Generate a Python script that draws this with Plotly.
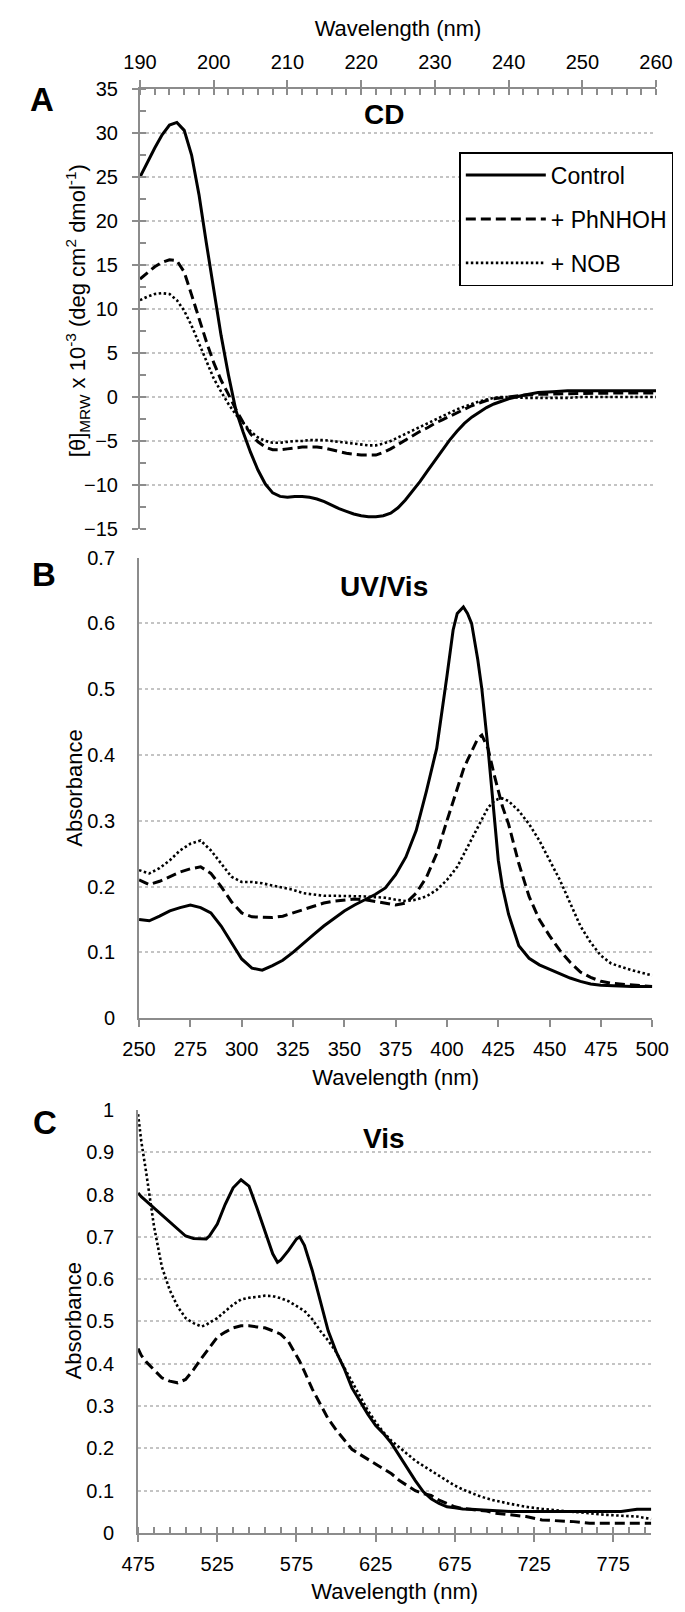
import plotly.graph_objects as go

FONT = "Liberation Sans, Arial, sans-serif"
AXIS_GRAY = "#8c8c8c"
GRID_GRAY = "#c4c4c4"
W, H = 685, 1612

# ---- Panel A: CD ----
cd_wl = [190, 191, 192, 193, 194, 195, 196, 197, 198, 199, 200, 201, 202, 203, 204, 205,
         206, 207, 208, 209, 210, 211, 212, 213, 214, 215, 216, 217, 218, 219, 220, 221,
         222, 223, 224, 225, 226, 227, 228, 229, 230, 231, 232, 233, 234, 235, 236, 237,
         238, 239, 240, 242, 244, 246, 248, 250, 255, 260]
cd_control = [25.0, 26.7, 28.3, 29.8, 30.9, 31.2, 30.3, 27.5, 23.0, 17.5, 12.0, 7.0, 2.5, -1.5,
              -4.0, -6.3, -8.3, -9.9, -10.9, -11.3, -11.4, -11.3, -11.3, -11.4, -11.6, -11.9,
              -12.3, -12.7, -13.0, -13.3, -13.5, -13.6, -13.6, -13.5, -13.2, -12.6, -11.7,
              -10.7, -9.6, -8.4, -7.2, -6.0, -4.9, -3.9, -3.0, -2.3, -1.7, -1.2, -0.8, -0.5,
              -0.2, 0.2, 0.5, 0.6, 0.7, 0.7, 0.7, 0.7]
cd_phnhoh = [13.4, 14.1, 14.8, 15.3, 15.6, 15.5, 14.2, 11.6, 8.9, 6.3, 3.9, 1.9, 0.3, -1.4,
             -2.9, -4.2, -5.1, -5.7, -6.0, -6.0, -5.9, -5.8, -5.7, -5.7, -5.7, -5.8, -6.0,
             -6.2, -6.4, -6.5, -6.6, -6.6, -6.6, -6.3, -5.9, -5.4, -4.9, -4.4, -3.9, -3.5,
             -3.0, -2.6, -2.2, -1.8, -1.4, -1.0, -0.7, -0.4, -0.2, -0.1, 0.0, 0.2, 0.3, 0.35,
             0.4, 0.4, 0.45, 0.45]
cd_nob = [11.0, 11.4, 11.7, 11.8, 11.7, 11.0, 9.8, 8.1, 6.1, 4.0, 2.1, 0.6, -0.8, -2.0, -3.0,
          -3.9, -4.6, -5.0, -5.2, -5.2, -5.1, -5.0, -5.0, -4.9, -4.9, -4.9, -5.0, -5.1, -5.2,
          -5.3, -5.4, -5.5, -5.5, -5.3, -5.0, -4.6, -4.2, -3.8, -3.4, -3.0, -2.6, -2.2, -1.8,
          -1.4, -1.1, -0.8, -0.5, -0.3, -0.1, 0.0, 0.0, -0.1, -0.1, -0.1, -0.1, 0.0, 0.0, 0.0]

# ---- Panel B: UV/Vis ----
uv_wl = [250, 255, 260, 265, 270, 275, 280, 285, 290, 295, 300, 305, 310, 315, 320, 325, 330,
         335, 340, 345, 350, 355, 360, 365, 370, 375, 380, 385, 390, 395, 400, 403, 405, 408,
         410, 412, 415, 417, 420, 423, 425, 427, 430, 435, 440, 445, 450, 455, 460, 465, 470,
         475, 480, 490, 500]
uv_control = [0.150, 0.148, 0.155, 0.163, 0.168, 0.172, 0.168, 0.160, 0.140, 0.115, 0.090,
              0.076, 0.073, 0.080, 0.088, 0.100, 0.114, 0.127, 0.140, 0.152, 0.163, 0.172,
              0.180, 0.188, 0.198, 0.218, 0.245, 0.285, 0.345, 0.410, 0.520, 0.590, 0.615,
              0.625, 0.615, 0.600, 0.545, 0.500, 0.410, 0.300, 0.240, 0.200, 0.158, 0.110,
              0.091, 0.081, 0.074, 0.067, 0.061, 0.056, 0.052, 0.050, 0.049, 0.048, 0.048]
uv_phnhoh = [0.210, 0.203, 0.208, 0.215, 0.222, 0.227, 0.230, 0.220, 0.200, 0.177, 0.160,
             0.154, 0.153, 0.153, 0.155, 0.160, 0.165, 0.170, 0.175, 0.178, 0.180, 0.181,
             0.180, 0.177, 0.174, 0.172, 0.175, 0.190, 0.214, 0.250, 0.300, 0.330, 0.350,
             0.378, 0.392, 0.405, 0.425, 0.430, 0.410, 0.370, 0.345, 0.322, 0.295, 0.235,
             0.185, 0.150, 0.125, 0.103, 0.085, 0.070, 0.062, 0.056, 0.053, 0.050, 0.048]
uv_nob = [0.225, 0.220, 0.228, 0.240, 0.255, 0.265, 0.270, 0.255, 0.235, 0.215, 0.207, 0.207,
          0.205, 0.202, 0.198, 0.195, 0.190, 0.188, 0.186, 0.186, 0.186, 0.186, 0.185, 0.184,
          0.183, 0.180, 0.178, 0.180, 0.185, 0.195, 0.210, 0.222, 0.230, 0.248, 0.260, 0.272,
          0.290, 0.302, 0.320, 0.330, 0.333, 0.334, 0.330, 0.315, 0.295, 0.270, 0.240, 0.210,
          0.175, 0.140, 0.115, 0.095, 0.083, 0.073, 0.065]

# ---- Panel C: Vis ----
vis_wl = [475, 477, 480, 483, 485, 488, 490, 495, 500, 505, 510, 515, 518, 520, 525, 530, 535,
          540, 545, 550, 555, 560, 563, 565, 570, 575, 577, 580, 585, 590, 595, 600, 605, 610,
          615, 620, 625, 630, 635, 640, 645, 650, 655, 660, 665, 670, 675, 680, 685, 690, 695,
          700, 710, 720, 730, 740, 750, 760, 770, 780, 790, 799]
vis_control = [0.804, 0.795, 0.785, 0.775, 0.769, 0.760, 0.753, 0.737, 0.718, 0.702, 0.696,
               0.695, 0.695, 0.702, 0.730, 0.777, 0.816, 0.835, 0.820, 0.769, 0.715, 0.660,
               0.640, 0.645, 0.668, 0.695, 0.700, 0.680, 0.620, 0.550, 0.478, 0.429, 0.390,
               0.343, 0.312, 0.281, 0.254, 0.235, 0.212, 0.182, 0.151, 0.124, 0.098, 0.081,
               0.070, 0.062, 0.060, 0.057, 0.056, 0.055, 0.054, 0.052, 0.051, 0.051, 0.051,
               0.051, 0.051, 0.051, 0.051, 0.051, 0.056, 0.056]
vis_phnhoh = [0.436, 0.420, 0.405, 0.393, 0.386, 0.374, 0.367, 0.359, 0.355, 0.363, 0.386,
              0.413, 0.428, 0.440, 0.463, 0.475, 0.485, 0.490, 0.490, 0.487, 0.485, 0.478,
              0.474, 0.470, 0.452, 0.421, 0.406, 0.382, 0.340, 0.305, 0.270, 0.244, 0.221,
              0.198, 0.186, 0.175, 0.163, 0.151, 0.140, 0.124, 0.112, 0.100, 0.093, 0.089,
              0.078, 0.070, 0.062, 0.058, 0.056, 0.054, 0.052, 0.047, 0.043, 0.039, 0.031,
              0.029, 0.027, 0.023, 0.023, 0.023, 0.023, 0.023]
vis_nob = [0.990, 0.926, 0.855, 0.777, 0.726, 0.668, 0.629, 0.574, 0.535, 0.508, 0.496, 0.488,
           0.492, 0.497, 0.508, 0.524, 0.540, 0.552, 0.556, 0.558, 0.561, 0.560, 0.557, 0.555,
           0.548, 0.537, 0.532, 0.525, 0.505, 0.478, 0.455, 0.428, 0.392, 0.357, 0.322, 0.290,
           0.262, 0.238, 0.218, 0.202, 0.186, 0.171, 0.159, 0.147, 0.136, 0.124, 0.112, 0.103,
           0.095, 0.088, 0.082, 0.077, 0.069, 0.062, 0.057, 0.053, 0.050, 0.047, 0.043, 0.041,
           0.039, 0.033]

series_names = ["Control", "+ PhNHOH", "+ NOB"]
series_dash = ["solid", "10px,5px", "2.5px,2.5px"]
series_width = [3, 3, 2.6]


def px_x(p):
    return p / W


def px_y(p):
    return 1 - p / H


fig = go.Figure()

panels = [
    ("x", "y", cd_wl, [cd_control, cd_phnhoh, cd_nob], True),
    ("x2", "y2", uv_wl, [uv_control, uv_phnhoh, uv_nob], False),
    ("x3", "y3", vis_wl, [vis_control, vis_phnhoh, vis_nob], False),
]
for xa, ya, wl, ys, show in panels:
    for name, vals, dash, lw in zip(series_names, ys, series_dash, series_width):
        fig.add_trace(go.Scatter(
            x=wl, y=vals, name=name, mode="lines", xaxis=xa, yaxis=ya,
            line=dict(color="black", width=lw, dash=dash),
            showlegend=show, legendgroup=name,
        ))

tickfont = dict(family=FONT, size=20, color="black")
titlefont = dict(family=FONT, size=22, color="black")
common_x = dict(showgrid=False, zeroline=False, showline=True, linecolor=AXIS_GRAY,
                linewidth=2, tickfont=tickfont, ticks="outside", tickcolor=AXIS_GRAY,
                tickwidth=2, ticklen=7, title_font=titlefont)
common_y = dict(showgrid=True, gridcolor=GRID_GRAY, griddash="dot", gridwidth=1.5,
                zeroline=False, showline=True, linecolor=AXIS_GRAY, linewidth=2,
                tickfont=tickfont, tickcolor=AXIS_GRAY, tickwidth=2)

fig.update_layout(
    width=W, height=H,
    margin=dict(l=0, r=0, t=0, b=0),
    paper_bgcolor="white", plot_bgcolor="white",
    font=dict(family=FONT, color="black"),
    xaxis=dict(common_x, domain=[px_x(121), px_x(664)], anchor="y", side="top",
               range=[190, 260], tick0=190, dtick=10,
               minor=dict(ticks="inside", dtick=2, ticklen=6, tickcolor=AXIS_GRAY, tickwidth=2),
               title=dict(text="Wavelength (nm)", standoff=8),
               ticklabelstandoff=3),
    yaxis=dict(common_y, domain=[px_y(517), px_y(71)], anchor="x", range=[-15, 35],
               dtick=5, ticks="outside", ticklen=6, ticklabelstandoff=10,
               minor=dict(ticks="inside", dtick=2.5, ticklen=6, tickcolor=AXIS_GRAY, tickwidth=2,
                          showgrid=False)),
    xaxis2=dict(common_x, domain=[px_x(120), px_x(660)], anchor="y2",
                range=[250, 500], tick0=250, dtick=25,
                title=dict(text="Wavelength (nm)", standoff=10),
                ticklabelstandoff=5),
    yaxis2=dict(common_y, domain=[px_y(1013), px_y(546)], anchor="x2", range=[0, 0.7],
                dtick=0.1, ticks="", tickformat="~g", ticklabelstandoff=18),
    xaxis3=dict(common_x, domain=[px_x(119), px_x(659)], anchor="y3",
                range=[475, 799], tick0=475, dtick=50,
                minor=dict(ticks="inside", dtick=10, tick0=475, ticklen=6, tickcolor=AXIS_GRAY,
                           tickwidth=2),
                title=dict(text="Wavelength (nm)", standoff=10),
                ticklabelstandoff=5),
    yaxis3=dict(common_y, domain=[px_y(1535), px_y(1106)], anchor="x3", range=[0, 1],
                dtick=0.1, ticks="", tickformat="~g", ticklabelstandoff=18),
    legend=dict(x=px_x(457), y=px_y(135), xanchor="left", yanchor="top",
                bgcolor="white", bordercolor="black", borderwidth=1.5,
                font=dict(family=FONT, size=23, color="black"),
                tracegroupgap=11, itemwidth=80),
)

annotations = [
    # panel letters
    dict(text="<b>A</b>", x=px_x(18), y=px_y(82), font=dict(size=33)),
    dict(text="<b>B</b>", x=px_x(20), y=px_y(563), font=dict(size=33)),
    dict(text="<b>C</b>", x=px_x(21), y=px_y(1119), font=dict(size=33)),
    # panel titles
    dict(text="<b>CD</b>", x=px_x(378), y=px_y(97), font=dict(size=28)),
    dict(text="<b>UV/Vis</b>", x=px_x(378), y=px_y(575), font=dict(size=28)),
    dict(text="<b>Vis</b>", x=px_x(378), y=px_y(1135), font=dict(size=28)),
    # y titles
    dict(text="[θ]<sub>MRW</sub> x 10<sup>-3</sup> (deg cm<sup>2</sup> dmol<sup>-1</sup>)",
         x=px_x(56), y=px_y(296), textangle=-90, font=dict(size=22)),
    dict(text="Absorbance", x=px_x(52), y=px_y(780), textangle=-90, font=dict(size=22)),
    dict(text="Absorbance", x=px_x(52), y=px_y(1320), textangle=-90, font=dict(size=22)),
]
for a in annotations:
    a.update(xref="paper", yref="paper", showarrow=False, xanchor="center", yanchor="middle")
    a["font"] = dict(family=FONT, color="black", **a["font"])
fig.update_layout(annotations=annotations)

fig.write_html("out.html")
